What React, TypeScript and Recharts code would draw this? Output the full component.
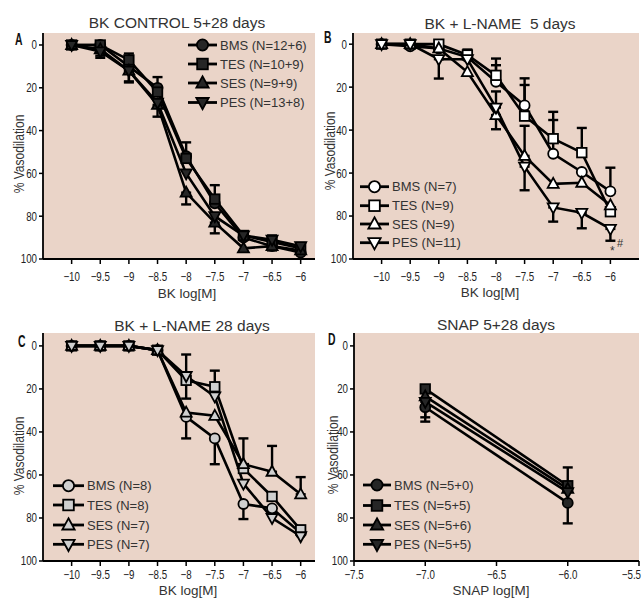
import { LineChart, Line, XAxis, YAxis, CartesianGrid, ErrorBar } from 'recharts'

type Err = [number, number] | null
type Shape = 'circle' | 'square' | 'up' | 'down'

const BG = '#ead4c8'
const SANS = "'Liberation Sans', Arial, sans-serif"
const SQUEEZE = 0.78

// x values
const bkDoses = [-10, -9.5, -9, -8.5, -8, -7.5, -7, -6.5, -6]
const snapDoses = [-7, -6]
const bkTicks = [-10, -9.5, -9, -8.5, -8, -7.5, -7, -6.5, -6]
const snapTicks = [-7.5, -7, -6.5, -6, -5.5]
const yTicks = [0, 20, 40, 60, 80, 100]

const groups = ['BMS', 'TES', 'SES', 'PES']
const shapes: Shape[] = ['circle', 'square', 'up', 'down']

// A: BK control 5+28 days
const aBms = [0, 0, 10, 20, 52, 74, 90, 94, 97]
const aTes = [0, 0, 7, 22, 53, 72, 89, 92, 95]
const aSes = [0, 2, 12, 28, 69, 83, 95, 94, 96]
const aPes = [0, 3, 12, 27, 60, 80, 89, 91, 94]
const aBmsErr: Err[] = [null, null, null, [5, 0], [6.5, 0], [8.5, 0], [3, 0], null, null]
const aTesErr: Err[] = [null, null, [3, 0], null, null, null, null, [3, 0], [2.5, 0]]
const aSesErr: Err[] = [null, [0, 3], [0, 5.5], [0, 5.5], [0, 5.5], [0, 5], null, [0, 2], null]
const aPesErr: Err[] = [null, [0, 3], [0, 5], null, null, null, null, null, null]
const aN = ['12+6', '10+9', '9+9', '13+8']

// B: BK + L-NAME 5 days
const bBms = [0, 1, 2, 6, 17.5, 28.5, 51, 59.5, 68.5]
const bTes = [0, 0, 0, 5, 14.5, 33.5, 44, 50.5, 78]
const bSes = [0, 0, 2, 13, 33, 52, 65, 64.5, 75]
const bPes = [0, 0, 7, 7, 29.5, 57, 76, 78.5, 86]
const bBmsErr: Err[] = [null, null, null, null, [10.8, 0], [12.6, 0], [15.7, 0], null, [11, 0]]
const bTesErr: Err[] = [null, null, null, [2.5, 0], [4.7, 0], [14.5, 0], [12.5, 0], [11.5, 0], null]
const bSesErr: Err[] = [null, null, null, null, [0, 6.6], [14, 0], null, null, null]
const bPesErr: Err[] = [null, null, [0, 9], null, [7.5, 0], [0, 11], [0, 6.6], [0, 7.2], [0, 5.5]]
const bN = ['7', '9', '9', '11']

// C: BK + L-NAME 28 days
const cBms = [0, 0, 0, 2, 33, 43, 73.5, 75.5, 87]
const cTes = [0, 0, 0, 2, 16, 19, 57, 70, 85.5]
const cSes = [0, 0, 0, 2, 31, 32.5, 55, 58.5, 69]
const cPes = [0, 0, 0, 2, 14, 23.5, 64, 80, 88.5]
const cBmsErr: Err[] = [null, null, null, null, [0, 10], [0, 12], [0, 7], null, null]
const cTesErr: Err[] = [null, null, null, null, [0, 8.5], [7.5, 0], [14, 0], null, null]
const cSesErr: Err[] = [null, null, null, null, null, null, null, [12, 0], [8, 0]]
const cPesErr: Err[] = [null, null, null, null, [10, 0], null, null, null, null]
const cN = ['8', '8', '7', '7']

// D: SNAP 5+28 days
const dBms = [28.5, 73]
const dTes = [20, 65]
const dSes = [23.5, 66.5]
const dPes = [26, 68]
const dBmsErr: Err[] = [[0, 6.7], [0, 9.5]]
const dTesErr: Err[] = [null, [8.5, 0]]
const dSesErr: Err[] = [null, null]
const dPesErr: Err[] = [[0, 7.2], null]
const dN = ['5+0', '5+5', '5+6', '5+5']

const keys = ['bms', 'tes', 'ses', 'pes']

function buildRows(xs: number[], vals: number[][], errs: Err[][]) {
  return xs.map((x, i) => {
    const row: any = { x }
    keys.forEach((k, j) => {
      row[k] = vals[j][i]
      row[k + 'Err'] = errs[j][i]
    })
    return row
  })
}

function Marker({ cx, cy, shape, fill, s }: { cx: number; cy: number; shape: Shape; fill: string; s: number }) {
  const st = { fill, stroke: '#000', strokeWidth: 1.8 }
  if (shape === 'circle') return <circle cx={cx} cy={cy} r={s} {...st} />
  if (shape === 'square') return <rect x={cx - s * 0.95} y={cy - s * 0.95} width={s * 1.9} height={s * 1.9} {...st} />
  if (shape === 'up')
    return <polygon points={`${cx},${cy - s * 1.2} ${cx + s * 1.1},${cy + s * 0.8} ${cx - s * 1.1},${cy + s * 0.8}`} {...st} />
  return <polygon points={`${cx},${cy + s * 1.2} ${cx + s * 1.1},${cy - s * 0.8} ${cx - s * 1.1},${cy - s * 0.8}`} {...st} />
}

const fmtBk = (v: number) => (v < 0 ? '\u2212' + Math.abs(v) : String(v))
const fmtSnap = (v: number) => '\u2212' + Math.abs(v).toFixed(1)

// condensed tick labels (the original uses a narrow face)
const XTick = ({ x, y, payload, fmt, edge }: any) => {
  const atEdge = edge != null && x + 7 > edge
  return (
    <text
      transform={`translate(${atEdge ? edge - 1 : x},${y}) scale(${SQUEEZE},1)`}
      textAnchor={atEdge ? 'end' : 'middle'} dy="0.71em" fontFamily={SANS} fontSize={12.5} fill="#222"
    >
      {fmt(payload.value)}
    </text>
  )
}

const YTick = ({ x, y, payload }: any) => (
  <text
    transform={`translate(${x},${y}) scale(${SQUEEZE},1)`}
    textAnchor="end" dy="0.355em" fontFamily={SANS} fontSize={12.5} fill="#222"
  >
    {payload.value}
  </text>
)

const panels = [
  {
    id: 'A', box: { x: 0, y: 0, w: 321, h: 300 }, plot: { x0: 43, x1: 315, y0: 33, y1: 259 },
    xDomain: [-10.5, -5.75], yDomain: [-5.6, 100], xTicks: bkTicks, fmt: fmtBk, tickGap: 8,
    rows: buildRows(bkDoses, [aBms, aTes, aSes, aPes], [aBmsErr, aTesErr, aSesErr, aPesErr]),
    fill: '#262626', ns: aN,
    title: 'BK CONTROL 5+28 days', titleX: 177, titleY: 28,
    letter: { x: 15, y: 45 }, xLabel: 'BK log[M]', xLabelPos: { x: 187, y: 298 }, yLabelPos: { x: 24, y: 154 },
    legend: { x1: 188, x2: 217, tx: 220, ys: [45, 64, 83, 102.5] },
  },
  {
    id: 'B', box: { x: 321, y: 0, w: 321, h: 300 }, plot: { x0: 353, x1: 639, y0: 33, y1: 259 },
    xDomain: [-10.5, -5.5], yDomain: [-5.2, 100], xTicks: bkTicks, fmt: fmtBk, tickGap: 8,
    rows: buildRows(bkDoses, [bBms, bTes, bSes, bPes], [bBmsErr, bTesErr, bSesErr, bPesErr]),
    fill: '#ffffff', ns: bN,
    title: 'BK + L-NAME  5 days', titleX: 500, titleY: 29,
    letter: { x: 324, y: 43 }, xLabel: 'BK log[M]', xLabelPos: { x: 490, y: 297 }, yLabelPos: { x: 335, y: 151 },
    legend: { x1: 360, x2: 389, tx: 392, ys: [186.7, 205.7, 224, 242.7] },
  },
  {
    id: 'C', box: { x: 0, y: 300, w: 321, h: 298 }, plot: { x0: 43, x1: 315, y0: 333, y1: 561 },
    xDomain: [-10.5, -5.75], yDomain: [-6, 100], xTicks: bkTicks, fmt: fmtBk, tickGap: 4,
    rows: buildRows(bkDoses, [cBms, cTes, cSes, cPes], [cBmsErr, cTesErr, cSesErr, cPesErr]),
    fill: '#cfcfcf', ns: cN,
    title: 'BK + L-NAME 28 days', titleX: 192, titleY: 331,
    letter: { x: 18, y: 347 }, xLabel: 'BK log[M]', xLabelPos: { x: 188, y: 594.5 }, yLabelPos: { x: 24, y: 456 },
    legend: { x1: 53, x2: 84, tx: 87, ys: [485.7, 505, 525, 544.3] },
  },
  {
    id: 'D', box: { x: 321, y: 300, w: 321, h: 298 }, plot: { x0: 354, x1: 639, y0: 333, y1: 561 },
    xDomain: [-7.5, -5.5], yDomain: [-6, 100], xTicks: snapTicks, fmt: fmtSnap, tickGap: 4,
    rows: buildRows(snapDoses, [dBms, dTes, dSes, dPes], [dBmsErr, dTesErr, dSesErr, dPesErr]),
    fill: '#262626', ns: dN,
    title: 'SNAP 5+28 days', titleX: 496, titleY: 330,
    letter: { x: 328, y: 345 }, xLabel: 'SNAP log[M]', xLabelPos: { x: 491, y: 594.5 }, yLabelPos: { x: 338, y: 455 },
    legend: { x1: 363, x2: 391, tx: 394, ys: [485, 505.5, 525, 544.3] },
  },
]

function Panel({ p }: { p: (typeof panels)[number] }) {
  const yw = 30
  const xh = 30
  const { box, plot } = p
  const margin = {
    left: plot.x0 - box.x - yw,
    right: box.x + box.w - plot.x1,
    top: plot.y0 - box.y,
    bottom: box.y + box.h - plot.y1 - xh,
  }
  return (
    <div style={{ position: 'absolute', left: box.x, top: box.y, width: box.w, height: box.h }}>
      <LineChart width={box.w} height={box.h} data={p.rows} margin={margin}>
        <CartesianGrid horizontal={false} vertical={false} fill={BG} />
        <XAxis
          type="number" dataKey="x" domain={p.xDomain} ticks={p.xTicks} allowDataOverflow
          height={xh} tickSize={5} tickMargin={p.tickGap} interval={0}
          axisLine={{ stroke: '#000', strokeWidth: 1.8 }} tickLine={{ stroke: '#000', strokeWidth: 1.5 }}
          tick={<XTick fmt={p.fmt} edge={box.w} />}
        />
        <YAxis
          type="number" domain={p.yDomain} reversed ticks={yTicks} allowDataOverflow
          width={yw} tickSize={4} tickMargin={2} interval={0}
          axisLine={{ stroke: '#000', strokeWidth: 1.8 }} tickLine={{ stroke: '#000', strokeWidth: 1.5 }}
          tick={<YTick />}
        />
        {keys.map((k, j) => (
          <Line
            key={k} dataKey={k} stroke="#000" strokeWidth={2.6} isAnimationActive={false} activeDot={false}
            dot={(d: any) => (
              <Marker key={`${k}-${d.index}`} cx={d.cx} cy={d.cy} shape={shapes[j]} fill={p.fill} s={5} />
            )}
          >
            <ErrorBar dataKey={k + 'Err'} width={5} strokeWidth={2.4} stroke="#000" direction="y" />
          </Line>
        ))}
      </LineChart>
      <svg
        width={box.w} height={box.h}
        style={{ position: 'absolute', left: 0, top: 0, pointerEvents: 'none', overflow: 'visible' }}
      >
        <g transform={`translate(${-box.x},${-box.y})`}>
          <text x={p.titleX} y={p.titleY} textAnchor="middle" fontFamily={SANS} fontSize={15.5} fill="#333" style={{ whiteSpace: 'pre' }}>
            {p.title}
          </text>
          <text
            transform={`translate(${p.letter.x},${p.letter.y}) scale(0.65,1)`}
            fontFamily={SANS} fontWeight="bold" fontSize={16} fill="#111"
          >
            {p.id}
          </text>
          <text x={p.xLabelPos.x} y={p.xLabelPos.y} textAnchor="middle" fontFamily={SANS} fontSize={13.5} fill="#333">
            {p.xLabel}
          </text>
          <text
            transform={`translate(${p.yLabelPos.x},${p.yLabelPos.y}) rotate(-90) scale(0.83,1)`}
            textAnchor="middle" fontFamily={SANS} fontSize={14.5} fill="#333"
          >
            % Vasodilation
          </text>
          {groups.map((g, j) => {
            const y = p.legend.ys[j]
            const mid = (p.legend.x1 + p.legend.x2) / 2
            return (
              <g key={g}>
                <line x1={p.legend.x1} x2={p.legend.x2} y1={y} y2={y} stroke="#000" strokeWidth={2.8} />
                <Marker cx={mid} cy={y} shape={shapes[j]} fill={p.fill} s={5.6} />
                <text x={p.legend.tx} y={y + 4.7} fontFamily={SANS} fontSize={13} fill="#333">
                  {`${g} (N=${p.ns[j]})`}
                </text>
              </g>
            )
          })}
          {p.id === 'B' && (
            <g fontFamily={SANS} fill="#333">
              <text x={610} y={255} fontSize={12}>*</text>
              <text x={617} y={247} fontSize={11}>#</text>
            </g>
          )}
        </g>
      </svg>
    </div>
  )
}

export default function App() {
  return (
    <div style={{ position: 'absolute', left: 0, top: 0, width: 642, height: 598, background: '#fff', overflow: 'hidden' }}>
      {panels.map((p) => (
        <Panel key={p.id} p={p} />
      ))}
    </div>
  )
}
